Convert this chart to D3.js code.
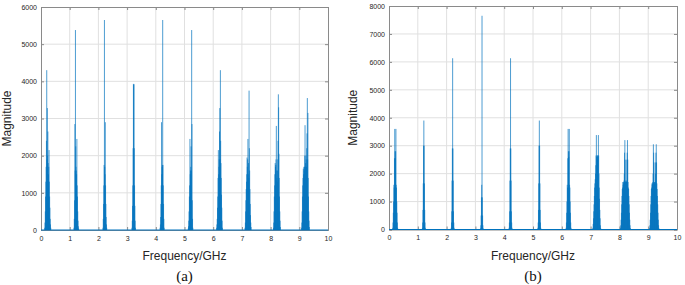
<!DOCTYPE html>
<html><head><meta charset="utf-8">
<script src="https://cdn.jsdelivr.net/npm/d3@7"></script>
<style>html,body{margin:0;padding:0;background:#fff;}svg{display:block;}</style>
</head><body>
<svg id="c" width="685" height="285"></svg>
<script>
// ---- data ----
const xTicks = [0,1,2,3,4,5,6,7,8,9,10];
const yTicksA = [0,1000,2000,3000,4000,5000,6000];
const yTicksB = [0,1000,2000,3000,4000,5000,6000,7000,8000];
const xLabel = "Frequency/GHz";
const yLabel = "Magnitude";
const captions = ["(a)", "(b)"];

// spectrum (a): [frequency GHz, magnitude]
const spectrumA = [
 [0.13,60],[0.14,200],[0.15,500],[0.16,900],[0.17,1300],[0.18,1700],[0.19,2400],[0.20,4300],[0.21,1900],[0.22,3280],[0.23,2000],[0.24,2650],[0.25,1800],[0.26,1500],[0.27,1700],[0.28,2150],[0.29,1300],[0.30,900],[0.31,600],[0.32,300],[0.33,150],[0.34,60],
 [1.15,60],[1.16,300],[1.17,800],[1.18,2850],[1.19,1600],[1.20,5380],[1.21,2250],[1.22,1700],[1.23,1600],[1.24,1500],[1.25,2450],[1.26,1200],[1.27,900],[1.28,500],[1.29,250],[1.30,100],[1.31,40],
 [2.16,60],[2.17,300],[2.18,700],[2.19,1200],[2.20,1750],[2.21,5650],[2.22,1700],[2.23,1500],[2.24,2900],[2.25,1200],[2.26,700],[2.27,350],[2.28,150],[2.29,60],
 [3.17,60],[3.18,250],[3.19,650],[3.20,1200],[3.21,2200],[3.22,3930],[3.23,3900],[3.24,3930],[3.25,2200],[3.26,1200],[3.27,650],[3.28,250],[3.29,60],
 [4.15,60],[4.16,150],[4.17,350],[4.18,700],[4.19,1200],[4.20,2900],[4.21,1500],[4.22,1700],[4.23,1750],[4.24,5650],[4.25,1750],[4.26,1200],[4.27,700],[4.28,300],[4.29,60],
 [5.13,40],[5.14,100],[5.15,250],[5.16,500],[5.17,900],[5.18,1200],[5.19,2450],[5.20,1500],[5.21,1600],[5.22,1700],[5.23,2250],[5.24,1600],[5.25,5380],[5.26,2850],[5.27,800],[5.28,300],[5.29,60],
 [6.12,60],[6.13,150],[6.14,300],[6.15,600],[6.16,900],[6.17,1400],[6.18,2150],[6.19,1500],[6.20,1700],[6.21,1900],[6.22,2650],[6.23,3280],[6.24,1900],[6.25,4300],[6.26,2400],[6.27,1800],[6.28,1400],[6.29,950],[6.30,600],[6.31,250],[6.32,60],
 [7.11,60],[7.12,200],[7.13,500],[7.14,800],[7.15,1100],[7.16,1300],[7.17,1500],[7.18,1950],[7.19,1700],[7.20,1900],[7.21,2450],[7.22,1500],[7.23,1800],[7.24,1400],[7.25,3750],[7.26,2200],[7.27,1600],[7.28,1100],[7.29,700],[7.30,400],[7.31,200],[7.32,80],
 [8.10,60],[8.11,200],[8.12,500],[8.13,900],[8.14,1200],[8.15,1500],[8.16,1800],[8.17,1700],[8.18,1750],[8.19,1900],[8.20,2800],[8.21,1600],[8.22,1400],[8.23,1300],[8.24,1600],[8.25,1900],[8.26,2400],[8.27,3650],[8.28,3300],[8.29,2050],[8.30,1400],[8.31,900],[8.32,500],[8.33,250],[8.34,80],
 [9.08,60],[9.09,200],[9.10,500],[9.11,900],[9.12,1200],[9.13,1400],[9.14,1650],[9.15,1500],[9.16,1700],[9.17,1600],[9.18,1700],[9.19,2000],[9.20,2820],[9.21,1700],[9.22,1800],[9.23,2000],[9.24,1900],[9.25,1700],[9.26,2200],[9.27,2600],[9.28,3550],[9.29,1900],[9.30,3150],[9.31,1400],[9.32,900],[9.33,500],[9.34,250],[9.35,80]
];

// spectrum (b): [frequency GHz, magnitude]
const spectrumB = [
 [0.13,60],[0.14,250],[0.15,600],[0.16,1000],[0.17,1600],[0.18,1500],[0.19,2550],[0.20,3600],[0.21,2800],[0.22,2550],[0.23,2800],[0.24,3600],[0.25,1600],[0.26,1500],[0.27,1000],[0.28,600],[0.29,250],[0.30,60],
 [1.16,60],[1.17,250],[1.18,700],[1.19,1650],[1.20,3000],[1.21,3900],[1.22,3000],[1.23,1650],[1.24,700],[1.25,250],[1.26,60],
 [2.16,60],[2.17,250],[2.18,650],[2.19,1750],[2.20,2900],[2.21,6130],[2.22,2900],[2.23,1750],[2.24,650],[2.25,250],[2.26,60],
 [3.18,40],[3.19,150],[3.20,500],[3.21,1150],[3.22,1600],[3.23,7650],[3.24,1150],[3.25,500],[3.26,150],[3.27,40],
 [4.17,60],[4.18,250],[4.19,650],[4.20,1750],[4.21,2900],[4.22,6130],[4.23,2900],[4.24,1750],[4.25,650],[4.26,250],[4.27,60],
 [5.17,60],[5.18,250],[5.19,700],[5.20,1650],[5.21,3000],[5.22,3900],[5.23,3000],[5.24,1650],[5.25,700],[5.26,250],[5.27,60],
 [6.15,60],[6.16,250],[6.17,600],[6.18,1000],[6.19,1600],[6.20,1500],[6.21,2550],[6.22,3600],[6.23,2800],[6.24,2600],[6.25,2800],[6.26,3600],[6.27,1600],[6.28,1500],[6.29,1000],[6.30,600],[6.31,250],[6.32,60],
 [7.08,60],[7.09,200],[7.10,400],[7.11,650],[7.12,900],[7.13,1200],[7.14,1500],[7.15,1650],[7.16,1800],[7.17,2000],[7.18,2300],[7.19,2650],[7.20,3380],[7.21,2600],[7.22,2650],[7.23,2500],[7.24,2650],[7.25,2600],[7.26,2650],[7.27,3380],[7.28,2650],[7.29,2000],[7.30,1500],[7.31,1100],[7.32,700],[7.33,400],[7.34,150],[7.35,50],
 [8.04,50],[8.05,150],[8.06,350],[8.07,600],[8.08,900],[8.09,1200],[8.10,1450],[8.11,1500],[8.12,1700],[8.13,1600],[8.14,1700],[8.15,1650],[8.16,1750],[8.17,2000],[8.18,2750],[8.19,3200],[8.20,2500],[8.21,1700],[8.22,1750],[8.23,1700],[8.24,1750],[8.25,1700],[8.26,2500],[8.27,2750],[8.28,3200],[8.29,2500],[8.30,1700],[8.31,1500],[8.32,1450],[8.33,1200],[8.34,900],[8.35,600],[8.36,350],[8.37,150],[8.38,50],
 [9.05,50],[9.06,150],[9.07,350],[9.08,600],[9.09,900],[9.10,1200],[9.11,1450],[9.12,1500],[9.13,1650],[9.14,1600],[9.15,1650],[9.16,1700],[9.17,2000],[9.18,3050],[9.19,2750],[9.20,2400],[9.21,1650],[9.22,1700],[9.23,1650],[9.24,1700],[9.25,2000],[9.26,2400],[9.27,2750],[9.28,3050],[9.29,2400],[9.30,1650],[9.31,1450],[9.32,1200],[9.33,900],[9.34,600],[9.35,350],[9.36,150],[9.37,50]
];

// ---- drawing ----
const svg = d3.select("#c");
const FONT = "'Liberation Sans', Arial, Helvetica, sans-serif";
const BLUE = "#0072BD";

function panel(opt){
  const x = d3.scaleLinear().domain([0,10]).range([opt.x0, opt.x1]);
  const y = d3.scaleLinear().domain([0, opt.ymax]).range([opt.y0, opt.y1]);
  const g = svg.append("g");

  // grid
  g.append("g").selectAll("line").data(xTicks.slice(1,-1)).join("line")
    .attr("x1", d=>x(d)).attr("x2", d=>x(d)).attr("y1", opt.y0).attr("y2", opt.y1)
    .attr("stroke", "#e0e0e0").attr("stroke-width", 1);
  g.append("g").selectAll("line").data(opt.yTicks.slice(1,-1)).join("line")
    .attr("y1", d=>y(d)).attr("y2", d=>y(d)).attr("x1", opt.x0).attr("x2", opt.x1)
    .attr("stroke", "#e0e0e0").attr("stroke-width", 1);

  // axes via d3
  const ax = g.append("g").attr("transform", `translate(0,${opt.y0})`)
    .call(d3.axisBottom(x).tickValues(xTicks).tickSize(-3).tickPadding(6).tickFormat(d3.format("d")));
  const ay = g.append("g").attr("transform", `translate(${opt.x0},0)`)
    .call(d3.axisLeft(y).tickValues(opt.yTicks).tickSize(-3).tickPadding(4).tickFormat(d3.format("d")));
  const at = g.append("g").attr("transform", `translate(0,${opt.y1})`)
    .call(d3.axisTop(x).tickValues(xTicks).tickSize(-3).tickFormat(""));
  const ar = g.append("g").attr("transform", `translate(${opt.x1},0)`)
    .call(d3.axisRight(y).tickValues(opt.yTicks).tickSize(-3).tickFormat(""));
  [ax,ay,at,ar].forEach(a=>{
    a.selectAll("path").attr("stroke","#8a8a8a").attr("stroke-width",1);
    a.selectAll("line").attr("stroke","#8a8a8a");
    a.selectAll("text").attr("fill","#262626").attr("font-family",FONT).attr("font-size","7px");
  });

  // spectrum stems
  g.append("g").selectAll("line").data(opt.data).join("line")
    .attr("x1", d=>x(d[0])).attr("x2", d=>x(d[0]))
    .attr("y1", y(0)).attr("y2", d=>y(d[1]))
    .attr("stroke", BLUE).attr("stroke-width", 1).attr("stroke-opacity", 0.7);
  // zero line of the spectrum
  g.append("line").attr("x1", x(0)).attr("x2", x(10)).attr("y1", y(0)).attr("y2", y(0))
    .attr("stroke", BLUE).attr("stroke-width", 1.2);

  // labels
  g.append("text").attr("x", (opt.x0+opt.x1)/2).attr("y", 260)
    .attr("text-anchor","middle").attr("font-family",FONT).attr("font-size","12px").attr("fill","#262626")
    .text(xLabel);
  g.append("text").attr("transform", `translate(${opt.ylx},${(opt.y0+opt.y1)/2}) rotate(-90)`)
    .attr("text-anchor","middle").attr("font-family",FONT).attr("font-size","12px").attr("fill","#262626")
    .text(yLabel);
  g.append("text").attr("x", (opt.x0+opt.x1)/2).attr("y", 281)
    .attr("text-anchor","middle").attr("font-family","'Liberation Serif', 'Times New Roman', serif")
    .attr("font-size","15px").attr("fill","#111").text(opt.caption);
}

panel({x0:41, x1:328, y0:230, y1:7, ymax:6000, yTicks:yTicksA, data:spectrumA, ylx:11, caption:captions[0]});
panel({x0:389, x1:677, y0:229.5, y1:6, ymax:8000, yTicks:yTicksB, data:spectrumB, ylx:357, caption:captions[1]});
</script>
</body></html>
